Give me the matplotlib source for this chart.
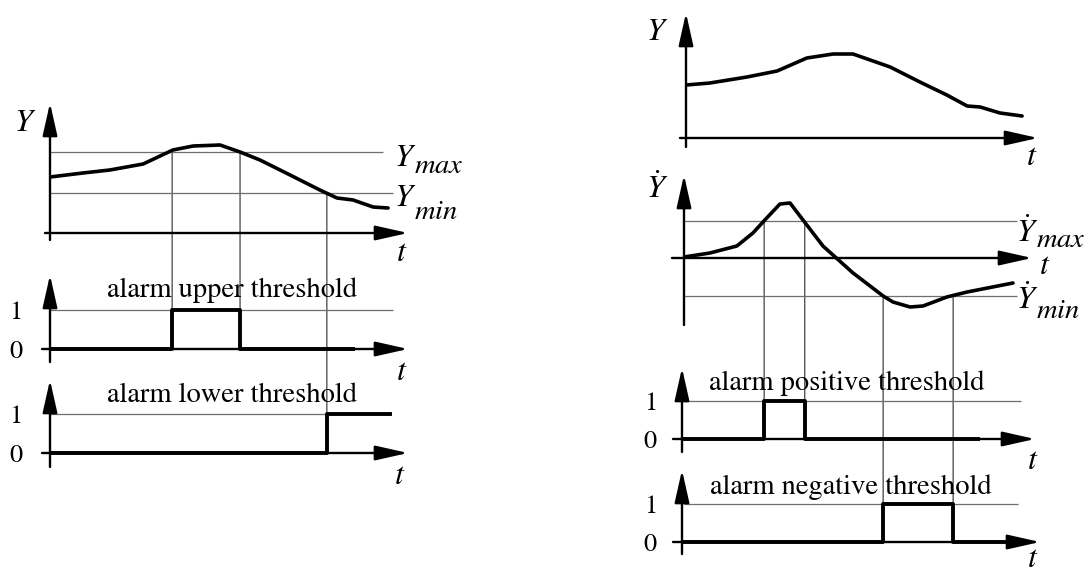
import matplotlib
matplotlib.use("Agg")
import matplotlib.pyplot as plt
from matplotlib.patches import ConnectionPatch

plt.rcParams["font.family"] = "STIXGeneral"
plt.rcParams["mathtext.fontset"] = "stix"

# ---- left column: signal Y and its two threshold alarms ----
t_y = [0, 9.4, 17.1, 26.6, 35.1, 40.9, 48.6, 54.3, 60.0, 68.6, 77.1, 82.0, 86.6, 92.3, 96.6]
y_vals = [5.6, 6.0, 6.3, 6.9, 8.3, 8.7, 8.8, 8.1, 7.3, 5.8, 4.3, 3.5, 3.3, 2.6, 2.5]
Y_MAX = 8.1
Y_MIN = 4.0
t_upper = [0, 34.9, 54.3, 86.6]
s_upper = [0, 1, 0, 0]
t_lower = [0, 79.1, 97.1]
s_lower = [0, 1, 1]

# ---- right column: signal Y, derivative dY/dt and its two alarms ----
t_r = [0.6, 7.4, 18.0, 26.6, 35.1, 42.6, 48.3, 58.9, 67.4, 75.1, 80.9, 84.6, 90.3, 96.6]
r_vals = [5.3, 5.5, 6.1, 6.7, 8.0, 8.4, 8.4, 7.1, 5.6, 4.3, 3.2, 3.1, 2.5, 2.2]
t_d = [0, 7.4, 15.1, 19.7, 23.1, 27.4, 30.3, 34.0, 39.7, 48.3, 56.9, 59.7, 64.6, 68.3, 75.1, 80.9, 94.0]
d_vals = [0.1, 0.5, 1.2, 2.5, 3.8, 5.4, 5.5, 3.8, 1.2, -1.5, -3.8, -4.4, -4.9, -4.8, -3.9, -3.4, -2.5]
DY_MAX = 3.7
DY_MIN = -3.8
t_pos = [0, 22.9, 34.5, 84.0]
s_pos = [0, 1, 0, 0]
t_neg = [0, 56.9, 76.9, 93.1]
s_neg = [0, 1, 0, 0]

W, H = 1088, 572
HS = 3.5          # pixels per time unit
AXIS_LW = 1.7
CURVE_LW = 2.6
PULSE_LW = 2.8
THIN = "#6e6e6e"
FS_IT = 23
FS_SUB = 20.5

fig = plt.figure(figsize=(W / 100, H / 100), dpi=100)


def panel(col_x0, ox, oy, tip_x, tip_y, bot_y, start_x, vs):
    ax = fig.add_axes([ox / W, 1 - bot_y / H, (tip_x - ox) / W, (bot_y - tip_y) / H])
    ax.set_xlim((ox - col_x0) / HS, (tip_x - col_x0) / HS)
    ax.set_ylim(-(bot_y - oy) / vs, (oy - tip_y) / vs)
    ax.set_frame_on(False)
    ax.patch.set_visible(False)
    ax.set_xticks([])
    ax.set_yticks([])
    arrow = dict(arrowstyle="-|>,head_length=2.0,head_width=0.45", color="k",
                 lw=AXIS_LW, shrinkA=0, shrinkB=0)
    ax.annotate("", xy=(1, 0), xycoords=ax.get_yaxis_transform(),
                xytext=((start_x - ox) / (tip_x - ox), 0), textcoords=ax.get_yaxis_transform(),
                arrowprops=arrow, annotation_clip=False)
    ax.annotate("", xy=(0, 1), xycoords="axes fraction", xytext=(0, 0),
                textcoords="axes fraction", arrowprops=arrow, annotation_clip=False)
    return ax


def alarm_ticks(ax, pad):
    ax.set_yticks([0, 1], ["0", "1"])
    ax.tick_params(axis="y", length=0, pad=pad, labelsize=19)


def label(x, y, s, **kw):
    kw.setdefault("fontsize", FS_IT)
    fig.text(x / W, 1 - y / H, s, **kw)


def connect(axA, t, yA, axB, yB):
    con = ConnectionPatch(xyA=(t, yA), coordsA=axA.transData, xyB=(t, yB), coordsB=axB.transData,
                          color="#444444", lw=0.9, zorder=-1)
    fig.add_artist(con)


# left column
p1 = panel(50, 50, 233, 408, 103, 240, 45, 10)
p1.hlines([Y_MAX, Y_MIN], 0, [95.1, 98.0], color=THIN, lw=0.9)
p1.plot(t_y, y_vals, color="k", lw=CURVE_LW, solid_joinstyle="round", solid_capstyle="round")

p2 = panel(50, 50, 349, 408, 275, 362, 42, 39)
p2.hlines(1, 0, 98.0, color=THIN, lw=0.9)
p2.step(t_upper, s_upper, where="post", color="k", lw=PULSE_LW)
alarm_ticks(p2, 20)

p3 = panel(50, 50, 453, 408, 380, 467, 42, 39)
p3.hlines(1, 0, 97.1, color=THIN, lw=0.9)
p3.step(t_lower, s_lower, where="post", color="k", lw=PULSE_LW)
alarm_ticks(p3, 20)

connect(p1, t_upper[1], Y_MAX, p2, 1)
connect(p1, t_upper[2], Y_MAX, p2, 1)
connect(p1, t_lower[1], Y_MIN, p3, 1)

# right column
r1 = panel(684, 686, 138, 1038, 13, 147, 680, 10)
r1.plot(t_r, r_vals, color="k", lw=CURVE_LW, solid_joinstyle="round", solid_capstyle="round")

r2 = panel(684, 684, 258, 1032, 175, 325, 672, 10)
r2.hlines([DY_MAX, DY_MIN], 0, 95.1, color=THIN, lw=0.9)
r2.plot(t_d, d_vals, color="k", lw=CURVE_LW, solid_joinstyle="round", solid_capstyle="round")

r3 = panel(684, 682, 439, 1035, 368, 452, 673, 38)
r3.hlines(1, 0, 96.3, color=THIN, lw=0.9)
r3.step(t_pos, s_pos, where="post", color="k", lw=PULSE_LW)
alarm_ticks(r3, 18)

r4 = panel(684, 682, 542, 1040, 470, 554, 673, 38)
r4.hlines(1, 0, 95.4, color=THIN, lw=0.9)
r4.step(t_neg, s_neg, where="post", color="k", lw=PULSE_LW)
alarm_ticks(r4, 18)

connect(r2, t_pos[1], DY_MAX, r3, 1)
connect(r2, t_pos[2], DY_MAX, r3, 1)
connect(r2, t_neg[1], DY_MIN, r4, 1)
connect(r2, t_neg[2], DY_MIN, r4, 1)

# axis names and threshold labels
label(25, 131, r"$Y$", ha="center", va="baseline")
label(394, 166, r"$Y$", ha="left", va="baseline")
label(414, 173, r"$max$", ha="left", va="baseline", fontsize=FS_SUB)
label(394, 206, r"$Y$", ha="left", va="baseline")
label(414, 219, r"$min$", ha="left", va="baseline", fontsize=FS_SUB)
for x, y in [(402, 253), (402, 372), (400, 476)]:
    label(x, y, r"$t$", ha="center", va="center")
label(232, 290, "alarm upper threshold", ha="center", va="center", fontsize=20.5)
label(232, 395, "alarm lower threshold", ha="center", va="center", fontsize=20.5)

label(657, 40, r"$Y$", ha="center", va="baseline")
label(657, 198, r"$\dot{Y}$", ha="center", va="baseline")
label(1016, 242, r"$\dot{Y}$", ha="left", va="baseline")
label(1036, 247, r"$max$", ha="left", va="baseline", fontsize=FS_SUB)
label(1016, 309, r"$\dot{Y}$", ha="left", va="baseline")
label(1036, 318, r"$min$", ha="left", va="baseline", fontsize=FS_SUB)
for x, y in [(1032, 157), (1045, 266), (1033, 461), (1033, 559)]:
    label(x, y, r"$t$", ha="center", va="center")
label(847, 383, "alarm positive threshold", ha="center", va="center", fontsize=20.5)
label(851, 487, "alarm negative threshold", ha="center", va="center", fontsize=20.5)

fig.savefig("out.png", dpi=100, facecolor="white")
